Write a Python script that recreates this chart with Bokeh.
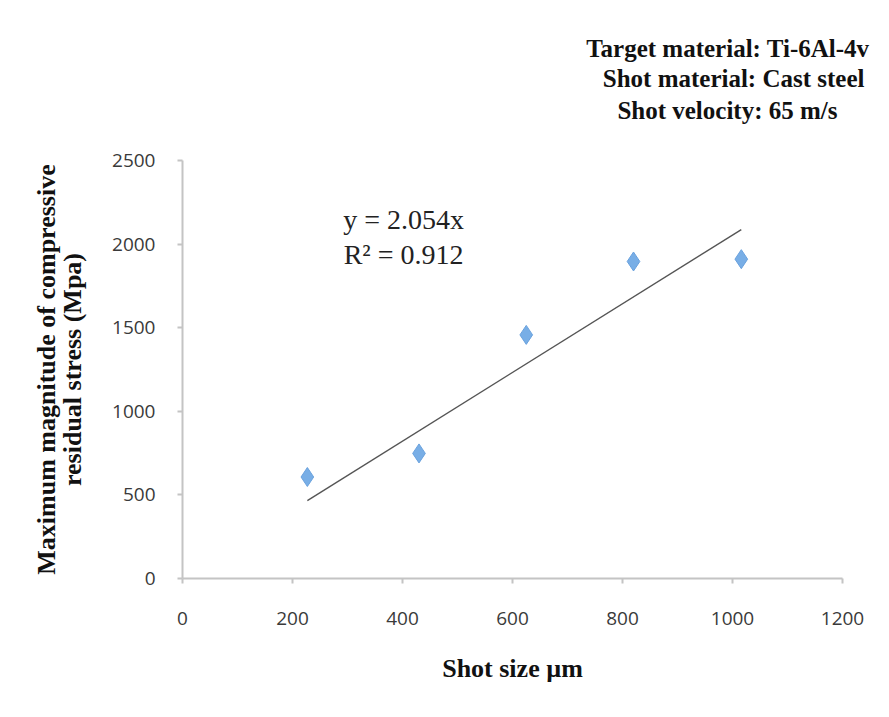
from bokeh.plotting import figure
from bokeh.models import Range1d, FixedTicker, Label, Title
from bokeh.embed import file_html
from bokeh.resources import INLINE

# Data
shot_size = [227, 430, 625, 820, 1016]          # µm
max_stress = [607, 748, 1457, 1896, 1910]       # MPa
trend_slope = 2.054
x_ticks = [0, 200, 400, 600, 800, 1000, 1200]
y_ticks = [0, 500, 1000, 1500, 2000, 2500]
info_lines = ["Target material: Ti-6Al-4v",
              "Shot material: Cast steel",
              "Shot velocity: 65 m/s"]
eq_lines = ["y = 2.054x", "R² = 0.912"]

p = figure(width=889, height=717, output_backend="svg", toolbar_location=None,
           x_range=Range1d(0, 1200), y_range=Range1d(0, 2500),
           min_border_left=182, min_border_right=47,
           min_border_top=160, min_border_bottom=139)
p.background_fill_color = "white"
p.border_fill_color = "white"
p.outline_line_color = None
p.grid.visible = False

axis_gray = "#c4c4c4"
label_color = "#3a3a3a"
for ax in (p.xaxis[0], p.yaxis[0]):
    ax.axis_line_color = axis_gray
    ax.axis_line_width = 2
    ax.major_tick_line_color = axis_gray
    ax.major_tick_line_width = 2
    ax.major_tick_out = 5
    ax.major_tick_in = 0
    ax.minor_tick_line_color = None
    ax.major_label_text_font = "Open Sans"
    ax.major_label_text_font_size = "19px"
    ax.major_label_text_color = label_color
    ax.axis_label_text_font = "Liberation Serif"
    ax.axis_label_text_font_style = "bold"
    ax.axis_label_text_color = "#111111"

p.xaxis.ticker = FixedTicker(ticks=x_ticks)
p.yaxis.ticker = FixedTicker(ticks=y_ticks)
p.xaxis.major_label_standoff = 28
p.yaxis.major_label_standoff = 22
p.xaxis.axis_label = "Shot size µm"
p.xaxis.axis_label_text_font_size = "26px"
p.xaxis.axis_label_standoff = 26
p.yaxis.axis_label = "Maximum magnitude of compressive\nresidual stress (Mpa)"
p.yaxis.axis_label_text_font_size = "26px"
p.yaxis.axis_label_text_line_height = 0.9
p.yaxis.axis_label_standoff = 22

# trend line
xs = [min(shot_size), max(shot_size)]
p.line(xs, [trend_slope * v for v in xs], line_color="#555555", line_width=1.4)

# data points
p.scatter(shot_size, max_stress, marker="diamond", size=19,
          fill_color="#78aee6", line_color="#6aa2de", line_width=1)

# equation label
eq_y = [2147, 1938]
for txt, yy in zip(eq_lines, eq_y):
    p.add_layout(Label(x=402, y=yy, text=txt, text_align="center",
                       text_baseline="middle", text_font="Liberation Serif",
                       text_font_size="28px", text_color="#222222"))

# spacer nearest the frame, then the info lines stacked upwards
p.add_layout(Title(text=" ", text_font_size="2px", standoff=31), "above")
info_offsets = [-27, -22, 5]
info_standoffs = [2, 1, 4]
for txt, off, so in reversed(list(zip(info_lines, info_offsets, info_standoffs))):
    p.add_layout(Title(text=txt, align="right", offset=off, standoff=so,
                       text_font="Liberation Serif", text_font_style="bold",
                       text_font_size="25px", text_color="#111111"), "above")

open("out.html", "w").write(file_html(p, INLINE))
